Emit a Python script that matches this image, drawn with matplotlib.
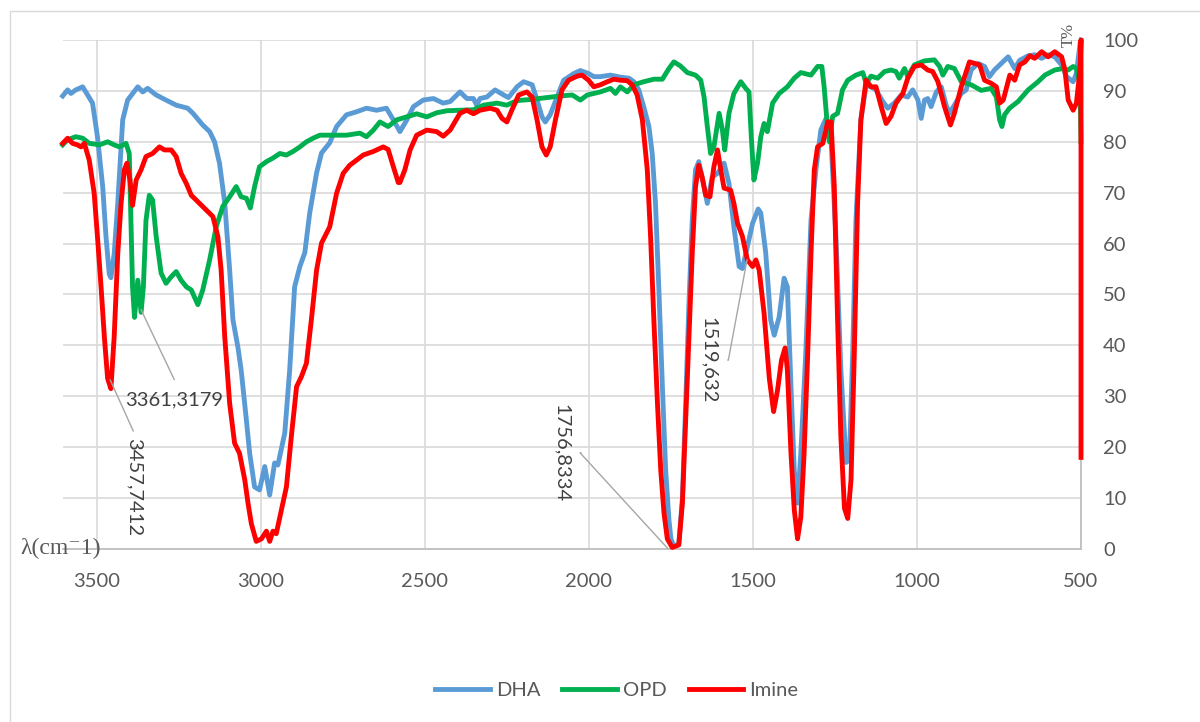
import matplotlib.pyplot as plt
from matplotlib.patches import Rectangle

# wavenumber (cm-1) / transmittance (%)
dha_wn = [3604, 3589, 3579, 3564, 3543, 3528, 3513, 3498, 3482, 3472, 3462, 3457, 3447, 3436, 3421, 3406,
          3375, 3360, 3345, 3319, 3289, 3258, 3223, 3207, 3177, 3156, 3141, 3126, 3110, 3095, 3085, 3070,
          3060, 3044, 3034, 3019, 3004, 2988, 2973, 2958, 2948, 2927, 2912, 2897, 2881, 2866, 2851, 2830,
          2815, 2790, 2769, 2739, 2708, 2678, 2647, 2617, 2596, 2576, 2555, 2535, 2505, 2474, 2444, 2423,
          2393, 2372, 2352, 2342, 2332, 2311, 2286, 2260, 2245, 2219, 2199, 2173, 2158, 2143, 2133, 2118,
          2097, 2077, 2046, 2026, 2001, 1985, 1965, 1934, 1904, 1878, 1863, 1848, 1833, 1817, 1807, 1797,
          1787, 1776, 1766, 1756, 1750, 1741, 1726, 1715, 1705, 1695, 1685, 1675, 1665, 1649, 1639, 1624,
          1608, 1588, 1573, 1558, 1542, 1532, 1517, 1501, 1484, 1476, 1461, 1446, 1435, 1420, 1405, 1395,
          1384, 1374, 1364, 1354, 1339, 1323, 1308, 1293, 1277, 1262, 1247, 1232, 1216, 1206, 1196, 1186,
          1171, 1155, 1140, 1125, 1104, 1089, 1069, 1048, 1028, 1013, 997, 987, 977, 967, 957, 941,
          926, 911, 901, 886, 865, 850, 835, 814, 794, 779, 764, 743, 722, 702, 687, 661,
          641, 620, 600, 580, 559, 544, 524, 514, 503, 500]
dha_t = [89.0, 90.2, 89.5, 90.2, 90.8, 89.2, 87.6, 81.0, 71.2, 61.4, 54.0, 53.3, 58.0, 68.0, 84.3, 88.2,
         90.8, 89.8, 90.5, 89.2, 88.2, 87.2, 86.6, 85.6, 83.3, 82.0, 80.0, 75.8, 68.0, 54.8, 45.0, 39.7,
         35.2, 25.3, 18.8, 12.2, 11.6, 16.2, 10.6, 16.9, 16.5, 22.8, 35.2, 51.5, 55.5, 58.2, 66.0, 73.9,
         77.8, 79.8, 83.0, 85.3, 85.9, 86.6, 86.2, 86.6, 84.3, 82.0, 84.3, 86.9, 88.2, 88.5, 87.6, 87.9,
         89.8, 88.5, 88.5, 87.2, 88.5, 88.8, 90.2, 89.2, 88.7, 90.8, 91.8, 91.2, 88.2, 84.9, 83.9, 85.3,
         88.8, 92.1, 93.4, 94.0, 93.4, 92.8, 92.8, 93.1, 92.7, 92.5, 91.8, 90.2, 86.9, 83.0, 77.7, 67.9,
         51.5, 31.9, 15.5, 5.7, 2.0, 0.5, 1.0, 10.0, 28.6, 48.3, 64.6, 74.5, 76.1, 71.2, 67.9, 73.1,
         73.8, 75.8, 71.8, 63.3, 55.5, 55.1, 59.4, 64.0, 66.8, 66.0, 58.2, 45.0, 42.0, 45.6, 53.2, 51.5,
         31.9, 15.5, 9.0, 18.8, 38.4, 64.6, 74.5, 82.3, 84.6, 80.4, 61.4, 35.2, 17.0, 17.5, 38.4, 64.6,
         84.3, 91.2, 90.8, 90.2, 87.9, 86.6, 87.6, 89.2, 88.8, 90.2, 88.2, 84.6, 88.2, 88.5, 86.9, 89.8,
         90.8, 87.2, 85.6, 87.2, 89.5, 90.2, 94.1, 95.4, 94.8, 92.8, 94.1, 95.4, 96.7, 94.4, 96.0, 96.9,
         97.1, 96.4, 97.1, 96.7, 95.1, 92.8, 91.8, 93.4, 99.3, 100.0]

opd_wn = [3604, 3589, 3564, 3543, 3523, 3492, 3467, 3447, 3431, 3411, 3401, 3396, 3391, 3385, 3375, 3365,
          3358, 3350, 3340, 3330, 3319, 3304, 3289, 3273, 3258, 3243, 3227, 3212, 3192, 3177, 3156, 3136,
          3116, 3095, 3075, 3060, 3044, 3032, 3019, 3004, 2983, 2963, 2942, 2922, 2902, 2881, 2861, 2841,
          2820, 2790, 2739, 2698, 2678, 2657, 2637, 2612, 2586, 2555, 2525, 2494, 2464, 2433, 2393, 2352,
          2321, 2280, 2250, 2219, 2179, 2128, 2087, 2051, 2026, 2005, 1965, 1934, 1919, 1904, 1883, 1863,
          1833, 1802, 1776, 1756, 1741, 1721, 1700, 1675, 1659, 1649, 1639, 1629, 1619, 1603, 1593, 1586,
          1573, 1558, 1537, 1522, 1512, 1505, 1497, 1486, 1476, 1466, 1456, 1440, 1420, 1395, 1374, 1354,
          1323, 1303, 1290, 1283, 1272, 1267, 1257, 1242, 1227, 1211, 1186, 1165, 1155, 1140, 1120, 1099,
          1079, 1064, 1054, 1038, 1028, 1008, 977, 947, 931, 921, 906, 886, 865, 835, 804, 774,
          758, 748, 741, 733, 718, 692, 661, 631, 610, 580, 555, 539, 524, 514, 503, 500]
opd_t = [79.4, 80.4, 81.0, 80.7, 79.7, 79.4, 80.0, 79.4, 79.0, 79.7, 77.7, 64.6, 51.5, 45.5, 52.8, 46.5,
         51.5, 64.6, 69.5, 68.6, 61.4, 54.2, 52.2, 53.5, 54.5, 52.8, 51.5, 50.9, 48.0, 50.9, 56.8, 63.3,
         67.3, 69.2, 71.2, 69.2, 68.9, 67.0, 71.2, 75.1, 76.1, 76.8, 77.7, 77.4, 78.1, 79.0, 80.0, 80.7,
         81.3, 81.3, 81.3, 81.7, 81.0, 82.3, 83.9, 83.0, 84.3, 84.9, 85.5, 84.9, 85.7, 86.1, 86.2, 86.3,
         87.2, 87.6, 87.2, 88.1, 88.3, 88.7, 89.0, 89.2, 88.2, 89.2, 89.8, 90.5, 89.5, 90.8, 89.8, 91.2,
         91.8, 92.3, 92.3, 94.4, 95.7, 94.9, 93.6, 93.1, 92.1, 88.8, 83.0, 77.7, 79.0, 85.6, 82.3, 78.4,
         85.6, 89.5, 91.8, 90.5, 89.8, 81.0, 72.5, 75.8, 81.0, 83.6, 82.0, 87.6, 89.5, 90.8, 92.5, 93.6,
         93.1, 94.8, 94.8, 90.8, 82.3, 80.0, 85.0, 85.6, 90.2, 92.1, 93.1, 93.6, 91.5, 92.9, 92.5, 93.8,
         94.1, 93.8, 92.5, 94.4, 92.8, 95.1, 95.9, 96.1, 94.8, 93.1, 94.8, 94.4, 91.8, 91.2, 90.1, 90.5,
         88.8, 84.3, 83.0, 85.3, 86.6, 87.9, 90.2, 91.8, 93.1, 94.1, 94.4, 94.1, 94.8, 94.4, 91.2, 80.0]

imine_wn = [3604, 3589, 3574, 3559, 3548, 3538, 3523, 3508, 3498, 3487, 3477, 3467, 3457, 3447, 3436, 3426,
            3416, 3408, 3399, 3391, 3380, 3365, 3350, 3330, 3309, 3294, 3273, 3258, 3243, 3227, 3212, 3187,
            3167, 3146, 3131, 3121, 3110, 3095, 3080, 3065, 3049, 3039, 3029, 3014, 2998, 2983, 2973, 2963,
            2953, 2937, 2922, 2907, 2891, 2876, 2861, 2846, 2830, 2815, 2790, 2769, 2749, 2729, 2708, 2688,
            2657, 2627, 2612, 2596, 2581, 2576, 2561, 2545, 2525, 2494, 2464, 2444, 2423, 2393, 2372, 2352,
            2332, 2301, 2280, 2265, 2250, 2235, 2214, 2189, 2173, 2158, 2143, 2130, 2118, 2102, 2082, 2062,
            2036, 2021, 2001, 1985, 1965, 1944, 1924, 1904, 1883, 1868, 1853, 1837, 1822, 1812, 1802, 1791,
            1781, 1771, 1761, 1746, 1726, 1715, 1705, 1695, 1685, 1675, 1665, 1655, 1644, 1631, 1619, 1608,
            1598, 1588, 1568, 1558, 1547, 1532, 1517, 1501, 1491, 1481, 1466, 1450, 1437, 1425, 1413, 1402,
            1395, 1384, 1374, 1364, 1354, 1344, 1333, 1323, 1313, 1303, 1287, 1272, 1262, 1252, 1242, 1232,
            1221, 1211, 1201, 1191, 1181, 1171, 1155, 1140, 1125, 1109, 1094, 1079, 1064, 1043, 1028, 1008,
            987, 967, 952, 936, 916, 898, 886, 865, 840, 824, 809, 794, 774, 758, 748, 737,
            717, 702, 687, 671, 656, 641, 620, 600, 580, 559, 549, 539, 524, 514, 503, 500, 500]
imine_t = [79.7, 80.7, 79.7, 79.4, 79.0, 79.7, 76.4, 69.9, 61.4, 51.5, 41.7, 33.5, 31.5, 41.7, 58.1, 67.9,
           74.5, 75.8, 72.5, 67.5, 72.5, 74.5, 77.1, 77.7, 79.0, 78.4, 78.4, 77.1, 73.8, 71.8, 69.5, 67.9,
           66.6, 65.3, 61.4, 54.8, 41.7, 28.6, 20.8, 18.8, 13.6, 9.0, 5.0, 1.5, 2.0, 3.5, 1.5, 3.5,
           3.0, 7.7, 12.2, 22.1, 31.9, 33.9, 36.5, 45.0, 54.8, 60.1, 63.3, 69.9, 73.8, 75.4, 76.4, 77.4,
           78.1, 79.0, 78.5, 75.1, 72.0, 72.0, 74.5, 78.4, 81.3, 82.3, 82.0, 81.1, 82.3, 85.6, 86.2, 85.5,
           86.2, 86.6, 86.2, 84.6, 83.9, 86.2, 89.2, 89.8, 88.8, 84.3, 79.0, 77.4, 79.0, 84.3, 90.2, 92.1,
           92.9, 93.1, 92.1, 90.8, 91.2, 91.8, 92.3, 92.1, 92.0, 91.2, 89.2, 84.3, 74.5, 61.4, 45.0, 28.6,
           15.5, 7.0, 2.0, 0.3, 0.8, 9.0, 25.3, 41.7, 58.1, 71.2, 75.4, 73.1, 69.5, 69.2, 75.1, 78.4,
           74.5, 70.9, 70.5, 67.9, 64.0, 61.4, 56.8, 55.5, 56.8, 54.8, 46.3, 33.5, 27.0, 31.2, 37.1, 39.5,
           35.2, 18.8, 7.7, 2.0, 6.3, 18.8, 38.4, 58.1, 74.5, 79.0, 79.7, 83.9, 83.9, 71.2, 45.0, 22.1,
           8.0, 6.0, 13.6, 38.4, 67.9, 84.3, 92.1, 90.8, 90.8, 86.9, 83.6, 85.0, 87.6, 89.5, 92.5, 94.8,
           95.1, 94.1, 93.8, 91.8, 86.9, 83.3, 85.6, 90.8, 95.7, 95.4, 95.1, 92.1, 91.5, 90.8, 87.6, 88.2,
           93.1, 92.1, 95.1, 95.7, 96.9, 96.4, 97.7, 96.7, 97.7, 96.7, 94.1, 88.2, 86.2, 87.6, 94.1, 100.0, 18.0]

x_ticks = [3500, 3000, 2500, 2000, 1500, 1000, 500]
y_ticks = [0, 10, 20, 30, 40, 50, 60, 70, 80, 90, 100]

# peak labels: text, labelled point, label centre, leader elbow, rotation
peak_labels = ['3361,3179', '3457,7412', '1756,8334', '1519,632']
peak_xy = [(3365, 47.0), (3459, 33.2), (1758, 0.0), (1518, 56.8)]
label_xy = [(3264, 29.3), (3386, 12.2), (2085, 18.9), (1636, 37.1)]
elbow_xy = [None, None, (2027, 18.9), (1575, 37.1)]
label_rot = [0, -90, -90, -90]

plt.rcParams['font.family'] = ['Lato', 'DejaVu Sans']

fig = plt.figure(figsize=(12, 7.22), dpi=100)
ax = fig.add_axes([63 / 1200, 1 - 549 / 722, (1081 - 63) / 1200, (549 - 40) / 722])

# drawn above the spines, like the original
ax.plot(dha_wn, dha_t, color='#5B9BD5', lw=3.5, solid_joinstyle='round', clip_on=False, zorder=3, label='DHA')
ax.plot(opd_wn, opd_t, color='#00B050', lw=3.5, solid_joinstyle='round', clip_on=False, zorder=3, label='OPD')
ax.plot(imine_wn, imine_t, color='#FF0000', lw=3.5, solid_joinstyle='round', clip_on=False, zorder=3,
        label='Imine')

ax.set_xlim(3603, 500)
ax.set_ylim(0, 100)
ax.set_xticks(x_ticks)
ax.set_yticks(y_ticks)
ax.yaxis.tick_right()
ax.grid(True, color='#D9D9D9', lw=1.2)
ax.set_axisbelow(True)
ax.tick_params(length=0, labelsize=14.5, colors='#595959')
ax.tick_params(axis='x', pad=17)
ax.tick_params(axis='y', pad=16)
for side in ['left', 'top']:
    ax.spines[side].set_visible(False)
for side in ['right', 'bottom']:
    ax.spines[side].set_color('#BFBFBF')
    ax.spines[side].set_linewidth(1.3)

# leader lines and peak labels
for text, pxy, lxy, exy, rot in zip(peak_labels, peak_xy, label_xy, elbow_xy, label_rot):
    if exy is None:
        start = (lxy[0], lxy[1] + 4) if rot == 0 else (lxy[0] + 3, lxy[1] + 11)
        ax.plot([pxy[0], start[0]], [pxy[1], start[1]], color='#A6A6A6', lw=1, zorder=4)
    else:
        ax.plot([lxy[0] - 60, exy[0], pxy[0]], [exy[1], exy[1], pxy[1]],
                color='#A6A6A6', lw=1, zorder=4)
    ax.text(lxy[0], lxy[1], text, rotation=rot, ha='center', va='center',
            fontsize=14.5, color='#404040', zorder=5)

fig.text(20 / 1200, 1 - 548 / 722, 'λ(cm⁻1)', ha='left', va='center', fontsize=17,
         color='#595959', family=['Liberation Serif', 'DejaVu Serif'])
fig.text(1069 / 1200, 1 - 47 / 722, 'T%', rotation=90, ha='center', va='bottom', fontsize=12,
         color='#595959', family=['Liberation Serif', 'DejaVu Serif'])

fig.legend(loc='center', bbox_to_anchor=(0.514, 0.044), ncol=3, frameon=False, fontsize=14.5,
           handlelength=2.7, handletextpad=0.3, columnspacing=1.1, labelcolor='#595959')

# light border around the chart area
fig.patches.append(Rectangle((10 / 1200, -0.05), 1.1, 1.05 - 11 / 722, transform=fig.transFigure,
                             fill=False, edgecolor='#D9D9D9', lw=1))

fig.savefig('out.png', dpi=100)
